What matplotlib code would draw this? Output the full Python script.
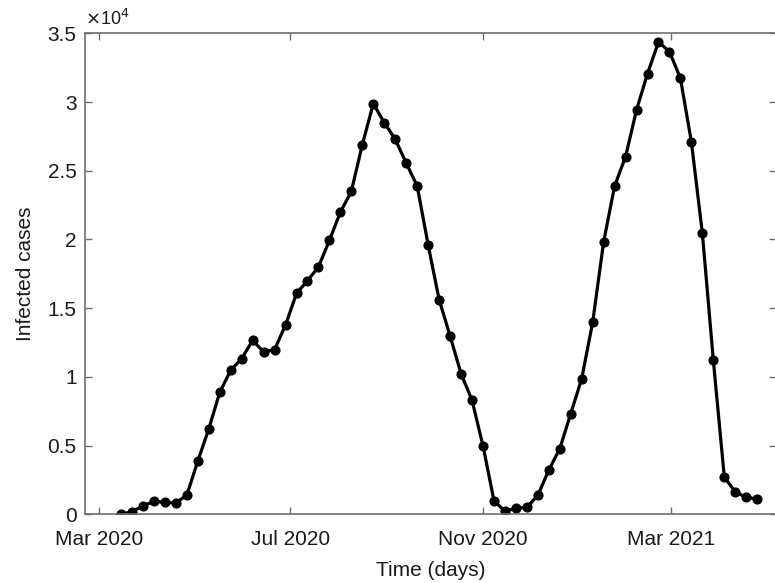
import pandas as pd
import matplotlib
matplotlib.use("Agg")
import matplotlib.pyplot as plt
import matplotlib.dates as mdates

# weekly infected cases, first sample on start_date
start_date = "2020-03-15"
cases = [0, 190, 600, 950, 870, 820, 1400, 3880, 6210, 8880,
         10480, 11330, 12660, 11810, 11980, 13780, 16080, 17000, 18000, 19940,
         21980, 23510, 26900, 29880, 28500, 27290, 25550, 23890, 19600, 15620,
         12980, 10230, 8300, 4990, 990, 220, 440, 510, 1380, 3220,
         4770, 7320, 9870, 13970, 19820, 23890, 26030, 29430, 32070, 34370,
         33670, 31730, 27100, 20450, 11210, 2720, 1620, 1240, 1110]
dates = pd.date_range(start_date, periods=len(cases), freq="7D")

x_range = ("2020-02-21", "2021-05-07")
y_ticks = [0, 0.5, 1, 1.5, 2, 2.5, 3, 3.5]

plt.rcParams['font.family'] = ['Liberation Sans', 'DejaVu Sans']
axis_grey = '#6e6e6e'
text_col = '#1a1a1a'

fig = plt.figure(figsize=(7.75, 5.83), dpi=100)
ax = fig.add_axes([85 / 775, 68.7 / 583, 691 / 775, 481 / 583])

ax.plot(dates, cases, color='black', linewidth=2.3, marker='o',
        markersize=6.3, markerfacecolor='black', markeredgecolor='black')

ax.set_xlim(pd.Timestamp(x_range[0]), pd.Timestamp(x_range[1]))
ax.set_ylim(0, 35000)
ax.set_yticks([v * 1e4 for v in y_ticks])
ax.set_yticklabels([f"{v:g}" for v in y_ticks])
ax.xaxis.set_major_locator(mdates.MonthLocator(bymonth=[3, 7, 11]))
ax.xaxis.set_major_formatter(mdates.DateFormatter('%b %Y'))

for s in ax.spines.values():
    s.set_color(axis_grey)
    s.set_linewidth(1.2)
ax.tick_params(direction='in', length=5, width=1, color=axis_grey,
               top=True, right=True, labelsize=15, labelcolor=text_col)
ax.tick_params(axis='x', pad=11)
ax.tick_params(axis='y', pad=6)

ax.text(0, 1.008, r'$\times$10$^4$', transform=ax.transAxes,
        ha='left', va='bottom', fontsize=13, color=text_col)

ax.set_xlabel('Time (days)', fontsize=15, color=text_col, labelpad=9)
ax.set_ylabel('Infected cases', fontsize=15, color=text_col, labelpad=9)

fig.savefig('out.png', dpi=100)
